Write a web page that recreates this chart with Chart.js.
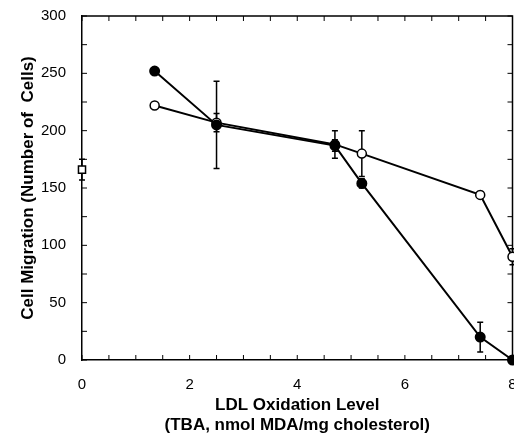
<!DOCTYPE html>
<html>
<head>
<meta charset="utf-8">
<script src="https://cdn.jsdelivr.net/npm/chart.js@4/dist/chart.umd.min.js"></script>
<style>
  html, body { margin: 0; padding: 0; background: #fff; }
  #wrap { width: 514px; height: 435px; }
</style>
</head>
<body>
<div id="wrap"><canvas id="grafico"></canvas></div>
<script>
// datos
const nivelOx = [1.35, 2.5, 4.7, 5.2, 7.4, 8.0];
const cerrados = [252, 205, 187, 154, 20, 0];
const errCerrados = [0, 38, 5, 4, 13, 0];
const abiertos = [222, 207, 188, 180, 144, 90];
const errAbiertos = [0, 8, 12, 20, 3, 7];
const controlX = [0];
const control = [166];
const errControl = [9];

const xTicks = { min: 0, max: 8, paso: 0.5, etiqueta: 2 };
const yTicks = { min: 0, max: 300, paso: 25, etiqueta: 50 };

// barras de error + marcas hacia dentro + marco
const pluginBarras = {
    id: 'barras',
    beforeDatasetsDraw(chart) {
        const ctx = chart.ctx;
        const xs = chart.scales.x, ys = chart.scales.y;
        const area = chart.chartArea;
        ctx.save();
        ctx.strokeStyle = '#000';
        ctx.lineWidth = 1.5;
        // marco superior y derecho
        ctx.beginPath();
        ctx.moveTo(area.left, area.top);
        ctx.lineTo(area.right, area.top);
        ctx.lineTo(area.right, area.bottom);
        ctx.stroke();
        ctx.lineWidth = 1;
        xs.ticks.forEach(t => {
            const px = xs.getPixelForValue(t.value);
            ctx.beginPath();
            ctx.moveTo(px, area.bottom); ctx.lineTo(px, area.bottom - 5);
            ctx.moveTo(px, area.top); ctx.lineTo(px, area.top + 5);
            ctx.stroke();
        });
        ys.ticks.forEach(t => {
            const py = ys.getPixelForValue(t.value);
            ctx.beginPath();
            ctx.moveTo(area.left, py); ctx.lineTo(area.left + 5, py);
            ctx.moveTo(area.right, py); ctx.lineTo(area.right - 5, py);
            ctx.stroke();
        });
        // barras de error
        ctx.lineWidth = 1.5;
        chart.data.datasets.forEach(ds => {
            (ds.errores || []).forEach((e, i) => {
                if (!e) return;
                const p = ds.data[i];
                const px = xs.getPixelForValue(p.x);
                const y1 = ys.getPixelForValue(p.y + e);
                const y2 = ys.getPixelForValue(p.y - e);
                ctx.beginPath();
                ctx.moveTo(px, y1); ctx.lineTo(px, y2);
                ctx.moveTo(px - 3, y1); ctx.lineTo(px + 3, y1);
                ctx.moveTo(px - 3, y2); ctx.lineTo(px + 3, y2);
                ctx.stroke();
            });
        });
        ctx.restore();
    }
};

const puntos = (xv, yv) => xv.map((x, i) => ({ x: x, y: yv[i] }));

new Chart(document.getElementById('grafico'), {
    type: 'line',
    data: {
        datasets: [
            {
                label: 'Cerrados',
                data: puntos(nivelOx, cerrados),
                errores: errCerrados,
                borderColor: '#000',
                borderWidth: 2,
                pointRadius: 4.5,
                pointBackgroundColor: '#000',
                pointBorderColor: '#000',
                clip: false
            },
            {
                label: 'Abiertos',
                data: puntos(nivelOx, abiertos),
                errores: errAbiertos,
                borderColor: '#000',
                borderWidth: 2,
                pointRadius: 4.5,
                pointBackgroundColor: '#fff',
                pointBorderColor: '#000',
                pointBorderWidth: 1.5,
                clip: false
            },
            {
                label: 'Control',
                data: puntos(controlX, control),
                errores: errControl,
                showLine: false,
                pointStyle: 'rect',
                pointRadius: 5,
                pointBackgroundColor: '#fff',
                pointBorderColor: '#000',
                pointBorderWidth: 1.5,
                clip: false
            }
        ]
    },
    options: {
        responsive: true,
        maintainAspectRatio: false,
        animation: false,
        layout: { autoPadding: false, padding: { top: 16, right: 1.5, left: 0, bottom: 0 } },
        plugins: {
            legend: { display: false },
            tooltip: { enabled: false }
        },
        scales: {
            x: {
                type: 'linear',
                min: xTicks.min,
                max: xTicks.max,
                afterFit: s => { s.height = 75; s.paddingRight = 0; s.paddingLeft = 0; },
                grid: { display: false },
                border: { display: true, color: '#000', width: 1.5 },
                ticks: {
                    stepSize: xTicks.paso,
                    autoSkip: false,
                    maxRotation: 0,
                    padding: 8,
                    color: '#000',
                    font: { family: 'Liberation Sans, Arial', size: 15 },
                    callback: v => (v % xTicks.etiqueta === 0 ? v : '')
                },
                title: {
                    display: true,
                    text: ['LDL Oxidation Level', '(TBA, nmol MDA/mg cholesterol)'],
                    color: '#000',
                    font: { family: 'Liberation Sans, Arial', size: 17, weight: 'bold', lineHeight: 1.18 },
                    padding: { top: 4, bottom: 0 }
                }
            },
            y: {
                min: yTicks.min,
                max: yTicks.max,
                afterFit: s => { s.width = 82; s.paddingTop = 0; s.paddingBottom = 0; },
                grid: { display: false },
                border: { display: true, color: '#000', width: 1.5 },
                ticks: {
                    stepSize: yTicks.paso,
                    autoSkip: false,
                    padding: 8,
                    color: '#000',
                    font: { family: 'Liberation Sans, Arial', size: 15 },
                    callback: v => (v % yTicks.etiqueta === 0 ? v : '')
                },
                title: {
                    display: true,
                    text: 'Cell Migration (Number of  Cells)',
                    color: '#000',
                    font: { family: 'Liberation Sans, Arial', size: 17, weight: 'bold' },
                    padding: { top: 18, bottom: 0 }
                }
            }
        }
    },
    plugins: [pluginBarras]
});
</script>
</body>
</html>
